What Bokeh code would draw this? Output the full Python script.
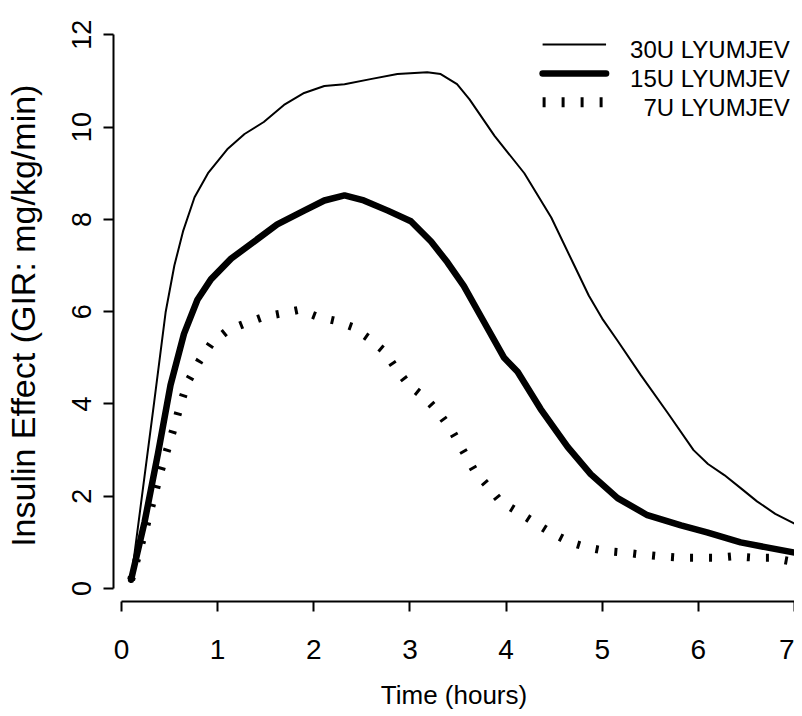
from bokeh.plotting import figure
from bokeh.models import Range1d, FixedTicker
from bokeh.core.properties import value
from bokeh.embed import file_html
from bokeh.resources import INLINE

# ---- data ----
t30 = [0.10, 0.34, 0.46, 0.55, 0.64, 0.76, 0.90, 1.10, 1.28, 1.48, 1.69, 1.90, 2.11, 2.32, 2.59,
       2.87, 3.18, 3.32, 3.49, 3.62, 3.88, 4.19, 4.47, 4.71, 4.86, 5.00, 5.16, 5.40, 5.68,
       5.95, 6.10, 6.27, 6.45, 6.61, 6.80, 7.00]
y30 = [0.19, 4.04, 6.00, 7.00, 7.74, 8.48, 9.00, 9.52, 9.85, 10.11, 10.48, 10.74, 10.89, 10.93, 11.04,
       11.15, 11.19, 11.15, 10.93, 10.60, 9.81, 9.00, 8.04, 7.00, 6.35, 5.85, 5.37, 4.63, 3.81,
       3.00, 2.70, 2.46, 2.16, 1.89, 1.62, 1.41]

t15 = [0.10, 0.24, 0.38, 0.51, 0.65, 0.79, 0.93, 1.14, 1.38, 1.62, 1.90, 2.11, 2.32, 2.52,
       2.77, 3.01, 3.22, 3.39, 3.56, 3.74, 3.98, 4.12, 4.36, 4.64, 4.88, 5.16, 5.47, 5.82,
       6.09, 6.44, 7.00]
y15 = [0.19, 1.44, 2.93, 4.41, 5.52, 6.26, 6.70, 7.15, 7.52, 7.89, 8.19, 8.41, 8.52, 8.41,
       8.19, 7.96, 7.52, 7.07, 6.56, 5.89, 5.00, 4.70, 3.89, 3.07, 2.48, 1.96, 1.59, 1.37,
       1.22, 1.00, 0.78]

t7 = [0.10, 0.24, 0.41, 0.55, 0.62, 0.69, 0.81, 0.93, 1.10, 1.28, 1.48, 1.66, 1.85, 2.04,
      2.21, 2.40, 2.58, 2.73, 2.85, 2.99, 3.17, 3.30, 3.43, 3.55, 3.67, 3.81, 3.94, 4.12,
      4.29, 4.46, 4.67, 4.85, 5.05, 5.23, 5.40, 5.61, 5.82, 5.99, 6.20, 6.37, 6.58, 6.75, 6.96]
y7 = [0.19, 1.22, 2.56, 3.52, 4.04, 4.48, 4.93, 5.30, 5.59, 5.74, 5.89, 5.96, 6.04, 5.89,
      5.81, 5.67, 5.41, 5.15, 4.78, 4.41, 4.11, 3.81, 3.44, 3.00, 2.56, 2.22, 1.89, 1.67,
      1.44, 1.22, 1.00, 0.89, 0.81, 0.78, 0.74, 0.70, 0.67, 0.67, 0.67, 0.70, 0.67, 0.67, 0.59]

x_ticks = [0, 1, 2, 3, 4, 5, 6, 7]
y_ticks = [0, 2, 4, 6, 8, 10, 12]
series_labels = ["30U LYUMJEV", "15U LYUMJEV", "7U LYUMJEV"]

FONT = "Liberation Sans"

p = figure(width=794, height=712, output_backend="svg", toolbar_location=None,
           x_range=Range1d(-0.083, 7.0), y_range=Range1d(-0.28, 12.31),
           min_border_left=113, min_border_right=0, min_border_top=20, min_border_bottom=108)
p.outline_line_color = None
p.grid.visible = False
p.background_fill_color = "white"
p.border_fill_color = "white"

# curves
p.line(t30, y30, line_color="black", line_width=2, line_join="round")
p.line(t15, y15, line_color="black", line_width=6.5, line_join="round", line_cap="round")
p.line(t7, y7, line_color="black", line_width=8, line_dash="3 16")

# legend drawn manually (right-aligned labels, no box)
leg_x0, leg_x1 = 4.38, 5.04
leg_y = [11.79, 11.16, 10.54]
leg_text_x = 6.95
leg_text_dy = -0.11
p.line([leg_x0, leg_x1], [leg_y[0]] * 2, line_color="black", line_width=2)
p.line([leg_x0, leg_x1], [leg_y[1]] * 2, line_color="black", line_width=6.5, line_cap="round")
p.line([leg_x0, leg_x1], [leg_y[2]] * 2, line_color="black", line_width=10, line_dash="3 16")
p.text(x=[leg_text_x] * 3, y=[v + leg_text_dy for v in leg_y], text=series_labels,
       text_font=value(FONT), text_font_size="24px", text_align="right",
       text_baseline="middle", text_color="black")

# axes, R style
for ax in (p.xaxis[0], p.yaxis[0]):
    ax.axis_line_width = 2
    ax.major_tick_line_width = 2
    ax.major_tick_in = 0
    ax.major_tick_out = 10
    ax.minor_tick_line_color = None
    ax.major_label_text_font = FONT
    ax.major_label_text_color = "black"
    ax.axis_label_text_font = FONT
    ax.axis_label_text_font_style = "normal"
    ax.axis_label_text_color = "black"

p.xaxis.ticker = FixedTicker(ticks=x_ticks)
p.yaxis.ticker = FixedTicker(ticks=y_ticks)
p.xaxis.bounds = (0, 7)
p.yaxis.bounds = (0, 12)
p.xaxis.axis_label = "Time (hours)"
p.yaxis.axis_label = "Insulin Effect (GIR:  mg/kg/min)"
p.xaxis.major_label_text_font_size = "28px"
p.yaxis.major_label_text_font_size = "27px"
p.xaxis.axis_label_text_font_size = "26px"
p.yaxis.axis_label_text_font_size = "34px"
p.xaxis.major_label_standoff = 28
p.yaxis.major_label_standoff = 12
p.yaxis.major_label_orientation = "vertical"
p.xaxis.axis_label_standoff = 18
p.yaxis.axis_label_standoff = 28

open("out.html", "w").write(file_html(p, INLINE))
